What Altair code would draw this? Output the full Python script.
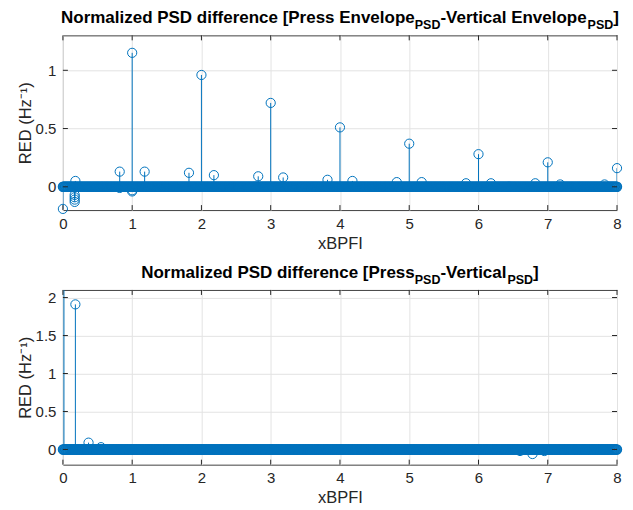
import altair as alt
import pandas as pd
import numpy as np

BLUE = "#0072BD"
TXT = "#262626"
FONT = "Liberation Sans"
PW, PH = 555, 175

# sampling grid of the frequency axis (xBPFI); the spectrum sits at 0 almost everywhere
grid_step = 0.01
x_grid = np.round(np.arange(0, 8 + grid_step / 2, grid_step), 4)
baseline_value = 0.0

# ---- top panel: envelope PSD difference
top_x = [0.0, 0.17, 0.17, 0.17, 0.17, 0.18, 0.82, 0.82, 1.0, 1.0, 1.0, 1.18, 1.82, 2.0, 2.18,
         2.82, 3.0, 3.18, 3.82, 4.0, 4.18, 4.82, 5.0, 5.18, 5.82, 6.0, 6.18, 6.82, 7.0,
         7.18, 7.82, 8.0]
top_y = [-0.19, -0.07, -0.09, -0.11, -0.13, 0.05, 0.13, -0.01, 1.15, -0.03, -0.04, 0.13, 0.12,
         0.96, 0.10, 0.09, 0.72, 0.08, 0.06, 0.51, 0.05, 0.04, 0.37, 0.04, 0.03, 0.28,
         0.03, 0.03, 0.21, 0.02, 0.02, 0.16]

# ---- bottom panel: raw PSD difference
bot_x = [0.015, 0.18, 0.37, 0.55, 6.6, 6.78, 6.95]
bot_y = [2.6, 1.91, 0.09, 0.03, -0.02, -0.06, -0.02]

x_ticks = [0, 1, 2, 3, 4, 5, 6, 7, 8]
top_yticks = [0, 0.5, 1]
bot_yticks = [0, 0.5, 1, 1.5, 2]
top_ydom = [-0.2, 1.3]
bot_ydom = [-0.2, 2.1]

# Arial/Liberation Sans Bold advance widths (per 1000 em) for title layout
W = {' ': 278, '[': 333, ']': 333, '-': 333, 'D': 722, 'E': 667, 'N': 722, 'P': 667,
     'S': 667, 'V': 667, 'a': 556, 'c': 556, 'd': 611, 'e': 556, 'f': 333, 'i': 278,
     'l': 278, 'm': 889, 'n': 611, 'o': 611, 'p': 611, 'r': 389, 's': 556, 't': 333,
     'v': 556, 'z': 500}
MAIN_FS, SUB_FS = 17, 12.5
MAIN_Y, SUB_Y = -12, -6
MSIZE = 85


def tw(s, fs):
    return sum(W[c] for c in s) * fs / 1000.0


def title_layers(pieces):
    total = sum(tw(t, SUB_FS if sub else MAIN_FS) for t, sub in pieces)
    x0 = PW / 2 - total / 2
    layers = []
    for t, sub in pieces:
        fs = SUB_FS if sub else MAIN_FS
        layers.append(
            alt.Chart(pd.DataFrame({"k": [0]})).mark_text(
                text=t, align="left", baseline="alphabetic", fontWeight="bold",
                font=FONT, fontSize=fs, color="black"
            ).encode(x=alt.value(x0), y=alt.value(SUB_Y if sub else MAIN_Y))
        )
        x0 += tw(t, fs)
    return layers


def anchor(x, y):
    # invisible point that fixes the outer bounds of the figure
    return alt.Chart(pd.DataFrame({"k": [0]})).mark_rule(strokeOpacity=0, opacity=0).encode(
        x=alt.value(x), x2=alt.value(x + 1), y=alt.value(y))


def panel(px, py, ydom, yticks, pieces, extra):
    xs = alt.Scale(domain=[0, 8], nice=False, zero=False)
    ys = alt.Scale(domain=ydom, nice=False, zero=False)
    peaks = pd.DataFrame({"x": px, "y": py, "z": 0.0})
    base = pd.DataFrame({"x": x_grid, "y": baseline_value})
    xt = pd.DataFrame({"x": x_ticks})
    yt = pd.DataFrame({"y": yticks})

    xaxis = alt.Axis(values=x_ticks, title="xBPFI", grid=True, ticks=False, tickSize=0,
                     domain=False, labelPadding=6, labelFontSize=15, labelColor=TXT,
                     labelFont=FONT, titleFont=FONT, titleFontSize=16.5,
                     titleFontWeight="normal", titleColor=TXT, titleX=PW / 2, titleY=33,
                     titleBaseline="middle", titleAlign="center", gridColor="#e3e3e3",
                     labelFlush=False)
    yaxis = alt.Axis(values=yticks, format="~g", title="RED (Hz⁻¹)", grid=True, ticks=False,
                     tickSize=0, domain=False, labelPadding=7, labelFontSize=15,
                     labelColor=TXT, labelFont=FONT, titleFont=FONT, titleFontSize=16.5,
                     titleFontWeight="normal", titleColor=TXT, titleX=-37, titleY=PH / 2,
                     titleAngle=270, titleBaseline="middle", titleAlign="center",
                     gridColor="#e3e3e3", labelFlush=False)
    X = alt.X("x:Q", scale=xs, axis=xaxis)
    Y = alt.Y("y:Q", scale=ys, axis=yaxis)

    stems = alt.Chart(peaks).mark_rule(color=BLUE, strokeWidth=1, clip=True).encode(
        x=X, y=Y, y2="z:Q")
    band = alt.Chart(base).mark_point(shape="circle", filled=False, size=MSIZE,
                                      strokeWidth=1.2, color=BLUE,
                                      opacity=1).encode(x=X, y=Y)
    circles = alt.Chart(peaks).transform_filter(
        (alt.datum.y >= ydom[0]) & (alt.datum.y <= ydom[1])
    ).mark_point(shape="circle", filled=False, size=MSIZE, strokeWidth=1, color=BLUE,
                 opacity=1).encode(x=X, y=Y)
    tick_b = alt.Chart(xt).mark_rule(color=TXT, strokeWidth=1).encode(
        x=X, y=alt.value(PH), y2=alt.value(PH - 5))
    tick_t = alt.Chart(xt).mark_rule(color=TXT, strokeWidth=1).encode(
        x=X, y=alt.value(0), y2=alt.value(5))
    tick_l = alt.Chart(yt).mark_rule(color=TXT, strokeWidth=1).encode(
        y=Y, x=alt.value(0), x2=alt.value(5))
    tick_r = alt.Chart(yt).mark_rule(color=TXT, strokeWidth=1).encode(
        y=Y, x=alt.value(PW), x2=alt.value(PW - 5))

    return alt.layer(stems, band, circles, tick_b, tick_t, tick_l, tick_r,
                     *title_layers(pieces), *extra).properties(width=PW, height=PH)


top = panel(top_x, top_y, top_ydom, top_yticks,
            [("Normalized PSD difference [Press Envelope", False), ("PSD", True),
             ("-Vertical Envelope", False), ("PSD", True), ("]", False)],
            [anchor(-54, -25)])
bottom = panel(bot_x, bot_y, bot_ydom, bot_yticks,
               [("Normalized PSD difference [Press", False), ("PSD", True),
                ("-Vertical", False), ("PSD", True), ("]", False)],
               [anchor(PW + 6, PH + 42)])

chart = alt.vconcat(top, bottom, spacing=80, bounds="flush").properties(
    padding=0,
    background="white",
).configure_view(stroke="#404040", strokeWidth=1)

chart.save("out.html", embed_options={"renderer": "svg", "actions": False})
